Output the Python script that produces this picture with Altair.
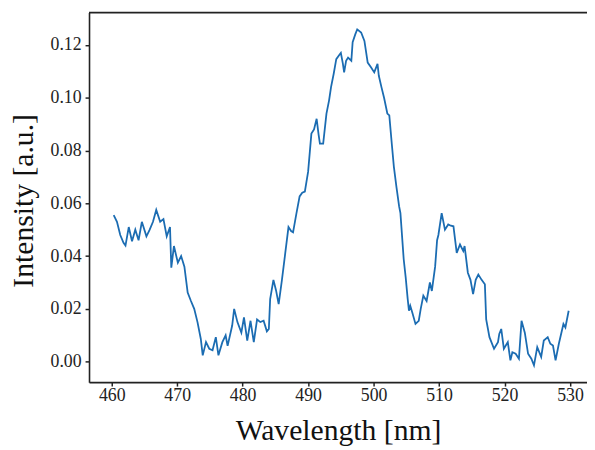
import altair as alt
import pandas as pd

wavelength = [460.3, 460.8, 461.3, 461.8, 462.1, 462.6, 463.1, 463.6, 464.1, 464.6, 465.3, 465.8,
              466.3, 466.8, 467.4, 467.9, 468.4, 468.9, 469.1, 469.5, 470.1, 470.6, 471.1, 471.6,
              472.1, 472.6, 473.1, 473.6, 473.9, 474.4, 474.9, 475.4, 475.9, 476.3, 476.9, 477.4,
              477.7, 478.4, 478.7, 479.2, 479.8, 480.2, 480.7, 481.2, 481.7, 482.2, 482.7, 483.2,
              483.7, 484.0, 484.2, 484.7, 485.1, 485.5, 486.0, 486.5, 487.0, 487.4, 487.7, 488.2,
              488.7, 489.1, 489.5, 490.0, 490.5, 490.9, 491.3, 491.6, 491.8, 492.3, 492.8, 493.2,
              493.5, 493.9, 494.3, 494.7, 495.0, 495.3, 495.5, 495.8, 496.1, 496.6, 496.8, 497.2,
              497.5, 498.1, 498.6, 499.1, 499.6, 500.1, 500.6, 500.8, 501.2, 501.6, 502.1, 502.4,
              502.8, 503.1, 503.5, 503.9, 504.1, 504.6, 504.9, 505.2, 505.4, 505.6, 505.9, 506.4,
              506.9, 507.2, 507.6, 508.1, 508.6, 508.9, 509.4, 509.7, 509.9, 510.4, 510.9, 511.4,
              511.8, 512.2, 512.7, 513.2, 513.7, 513.9, 514.4, 514.8, 515.2, 515.6, 516.0, 516.5,
              517.0, 517.2, 517.7, 518.4, 519.0, 519.2, 519.5, 519.9, 520.5, 520.9, 521.2, 521.7,
              522.2, 522.6, 523.1, 523.6, 524.1, 524.5, 525.0, 525.6, 526.0, 526.6, 527.0, 527.4,
              527.8, 528.3, 529.0, 529.3, 529.8]
intensity = [0.0555, 0.053, 0.048, 0.045, 0.044, 0.051, 0.0456, 0.050, 0.046, 0.053, 0.0475, 0.050,
             0.053, 0.0575, 0.053, 0.054, 0.0475, 0.051, 0.0356, 0.0438, 0.0375, 0.040, 0.036, 0.0262,
             0.023, 0.020, 0.015, 0.0087, 0.0024, 0.0074, 0.0049, 0.0043, 0.0093, 0.0024, 0.0074, 0.010,
             0.006, 0.0137, 0.020, 0.015, 0.011, 0.0168, 0.008, 0.0155, 0.0074, 0.016, 0.0150, 0.0155,
             0.0115, 0.0124, 0.0237, 0.031, 0.027, 0.0218, 0.031, 0.041, 0.051, 0.0495, 0.049, 0.056,
             0.0626, 0.064, 0.0644, 0.072, 0.0864, 0.088, 0.092, 0.086, 0.0826, 0.0826, 0.094, 0.099,
             0.104, 0.109, 0.1146, 0.116, 0.117, 0.113, 0.1096, 0.114, 0.1152, 0.114, 0.121, 0.124,
             0.1259, 0.1247, 0.1215, 0.1133, 0.1115, 0.1096, 0.1128, 0.1083, 0.104, 0.100, 0.094, 0.0933,
             0.082, 0.0738, 0.066, 0.0588, 0.0563, 0.0388, 0.032, 0.024, 0.0193, 0.0212, 0.0187, 0.0143,
             0.0155, 0.020, 0.025, 0.023, 0.030, 0.0268, 0.036, 0.046, 0.048, 0.0563, 0.050, 0.052,
             0.0515, 0.0513, 0.0412, 0.0444, 0.0419, 0.0438, 0.0337, 0.031, 0.0256, 0.031, 0.033, 0.031,
             0.0293, 0.016, 0.0093, 0.0049, 0.0074, 0.0105, 0.0124, 0.0049, 0.0074, 0.0005, 0.0036, 0.003,
             0.0011, 0.0155, 0.011, 0.003, 0.0011, -0.0014, 0.0055, 0.0018, 0.008, 0.0093, 0.0068, 0.0061,
             0.0005, 0.0068, 0.0143, 0.013, 0.0193]

x_ticks = [460, 470, 480, 490, 500, 510, 520, 530]
y_ticks = [0.00, 0.02, 0.04, 0.06, 0.08, 0.10, 0.12]

df = pd.DataFrame({"wavelength": wavelength, "intensity": intensity})

W, H = 504, 374
FONT = "Liberation Serif"
AX = "#222222"

line = alt.Chart(df).mark_line(color="#1b6cb2", strokeWidth=1.8).encode(
    x=alt.X("wavelength:Q",
            scale=alt.Scale(domain=[456.53, 532.6], nice=False, zero=False),
            axis=alt.Axis(values=x_ticks, format="d", title="Wavelength [nm]",
                          titleFontSize=30, titleFont=FONT, titleFontWeight="normal",
                          titleColor="#111111", titleBaseline="alphabetic",
                          titleY=58, titleX=W / 2, titleAlign="center",
                          labelFont=FONT, labelFontSize=18, labelColor="#222222",
                          labelPadding=1, tickSize=4, tickWidth=1.5, tickColor=AX,
                          domainColor=AX, domainWidth=1.6, grid=False)),
    y=alt.Y("intensity:Q",
            scale=alt.Scale(domain=[-0.00775, 0.13224], nice=False, zero=False),
            axis=alt.Axis(values=y_ticks, format=".2f", title="Intensity [a.u.]",
                          titleFontSize=30, titleFont=FONT, titleFontWeight="normal",
                          titleColor="#111111", titleAngle=-90, titleBaseline="alphabetic",
                          titleAlign="center", titleX=-57, titleY=190,
                          labelFont=FONT, labelFontSize=18, labelColor="#222222",
                          labelPadding=4, tickSize=4, tickWidth=1.5, tickColor=AX,
                          domainColor=AX, domainWidth=1.6, grid=False)),
)

top = alt.Chart(pd.DataFrame({"a": [0]})).mark_rule(color=AX, strokeWidth=1.6).encode(
    x=alt.value(0), x2=alt.value(W), y=alt.value(0)
)

chart = (line + top).properties(
    width=W, height=H,
    autosize=alt.AutoSizeParams(type="none"),
    padding={"left": 82, "top": 2, "right": 0, "bottom": 65},
    background="white",
).configure_view(stroke=None)

chart.save("out.html", embed_options={"renderer": "svg", "actions": False})
